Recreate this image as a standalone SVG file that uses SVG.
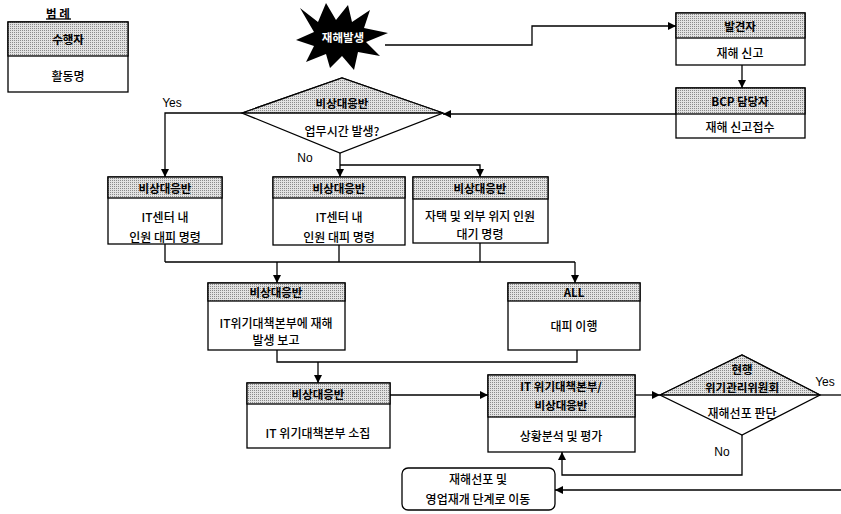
<svg xmlns="http://www.w3.org/2000/svg" width="841" height="514" viewBox="0 0 841 514">
<style>
.box{fill:#fff;stroke:#000;stroke-width:1.3}
.hdr{fill:url(#dots);stroke:#000;stroke-width:1.3}
.ht{font-family:"Noto Sans CJK KR","Liberation Sans",sans-serif;font-size:11.5px;font-weight:700;fill:#000;text-anchor:middle;dominant-baseline:central}
.bt{font-family:"Noto Sans CJK KR","Liberation Sans",sans-serif;font-size:12px;font-weight:500;fill:#000;text-anchor:middle;dominant-baseline:central}
.lbl{font-family:"Liberation Sans",sans-serif;font-size:12px;fill:#000;text-anchor:middle;dominant-baseline:central}
.c{fill:none;stroke:#000;stroke-width:1.3}
.ca{fill:none;stroke:#000;stroke-width:1.3;marker-end:url(#arr)}
</style>
<defs>
<pattern id="dots" width="2" height="2" patternUnits="userSpaceOnUse">
<rect width="2" height="2" fill="#e2e2e2"/>
<rect width="1" height="1" fill="#8a8a8a"/>
</pattern>
<marker id="arr" viewBox="0 0 10 10" refX="10" refY="5" markerWidth="8" markerHeight="8" markerUnits="userSpaceOnUse" orient="auto">
<path d="M0,0 L10,5 L0,10 z" fill="#000"/>
</marker>
</defs>
<rect width="841" height="514" fill="#fff"/>

<g id="legend">
<text class="ht" x="58" y="13">범 례</text>
<line x1="46" y1="19" x2="71" y2="19" stroke="#000" stroke-width="1.3"/>
<rect class="box" x="8" y="22" width="120" height="70"/>
<rect class="hdr" x="8" y="22" width="120" height="34"/>
<text class="ht" x="68" y="39">수행자</text>
<text class="bt" x="68" y="75">활동명</text>
</g>

<g id="start">
<polygon points="300,8 318,22 326,3 336,20 348,5 352,22 370,10 364,28 388,33 366,42 380,56 358,52 354,70 342,56 330,68 326,54 306,62 314,46 296,40 314,32" fill="#000"/>
<text class="ht" x="343" y="37" style="fill:#fff">재해발생</text>
</g>

<g id="discoverer">
<rect class="box" x="676" y="13" width="129" height="52"/>
<rect class="hdr" x="676" y="13" width="129" height="25"/>
<text class="ht" x="740" y="25.5">발견자</text>
<text class="bt" x="740" y="52">재해 신고</text>
</g>

<g id="bcp">
<rect class="box" x="676" y="88" width="129" height="50"/>
<rect class="hdr" x="676" y="88" width="129" height="26"/>
<text class="ht" x="740" y="101">BCP 담당자</text>
<text class="bt" x="740" y="126">재해 신고접수</text>
</g>

<g id="decision1">
<polygon class="box" points="242,113 342,78 443,113 340,153"/>
<polygon class="hdr" points="242,113 342,78 443,113"/>
<text class="ht" x="342" y="103">비상대응반</text>
<text class="bt" x="342" y="130">업무시간 발생?</text>
</g>

<g id="box1">
<rect class="box" x="108" y="177" width="114" height="67"/>
<rect class="hdr" x="108" y="177" width="114" height="21"/>
<text class="ht" x="165" y="188">비상대응반</text>
<text class="bt" x="165" y="216">IT센터 내</text>
<text class="bt" x="165" y="236">인원 대피 명령</text>
</g>

<g id="box2">
<rect class="box" x="273" y="177" width="132" height="68"/>
<rect class="hdr" x="273" y="177" width="132" height="21"/>
<text class="ht" x="339" y="188">비상대응반</text>
<text class="bt" x="339" y="216">IT센터 내</text>
<text class="bt" x="339" y="236">인원 대피 명령</text>
</g>

<g id="box3">
<rect class="box" x="413" y="177" width="135" height="66"/>
<rect class="hdr" x="413" y="177" width="135" height="22"/>
<text class="ht" x="480" y="188">비상대응반</text>
<text class="bt" x="480" y="215">자택 및 외부 위지 인원</text>
<text class="bt" x="480" y="233">대기 명령</text>
</g>

<g id="box4">
<rect class="box" x="208" y="283" width="137" height="67"/>
<rect class="hdr" x="208" y="283" width="137" height="18"/>
<text class="ht" x="276" y="292">비상대응반</text>
<text class="bt" x="276" y="322">IT위기대책본부에 재해</text>
<text class="bt" x="276" y="339">발생 보고</text>
</g>

<g id="all">
<rect class="box" x="508" y="283" width="132" height="67"/>
<rect class="hdr" x="508" y="283" width="132" height="18"/>
<text class="ht" x="574" y="292">ALL</text>
<text class="bt" x="574" y="325">대피 이행</text>
</g>

<g id="box5">
<rect class="box" x="247" y="383" width="143" height="65"/>
<rect class="hdr" x="247" y="383" width="143" height="21"/>
<text class="ht" x="318" y="394">비상대응반</text>
<text class="bt" x="318" y="432">IT 위기대책본부 소집</text>
</g>

<g id="box6">
<rect class="box" x="488" y="375" width="147" height="77"/>
<rect class="hdr" x="488" y="375" width="147" height="42"/>
<text class="ht" x="561" y="386">IT 위기대책본부/</text>
<text class="ht" x="561" y="405">비상대응반</text>
<text class="bt" x="561" y="435">상황분석 및 평가</text>
</g>

<g id="decision2">
<polygon class="box" points="660,395 742,355 820,395 742,435"/>
<polygon class="hdr" points="660,395 742,355 820,395"/>
<text class="ht" x="742" y="369">현행</text>
<text class="ht" x="742" y="387">위기관리위원회</text>
<text class="bt" x="742" y="412">재해선포 판단</text>
</g>

<g id="end">
<rect class="box" x="402" y="468" width="153" height="42" rx="6"/>
<text class="bt" x="478" y="478">재해선포 및</text>
<text class="bt" x="478" y="498">영업재개 단계로 이동</text>
</g>

<g id="connectors">
<path class="ca" d="M385,45 H532 V26 H676"/>
<path class="ca" d="M742,65 V88"/>
<path class="ca" d="M676,114 H443"/>
<path class="ca" d="M242,113 H165 V177"/>
<path class="ca" d="M340,153 V177"/>
<path class="ca" d="M340,165 H480 V177"/>
<path class="c" d="M165,244 V262 M339,245 V262 M480,243 V262 M165,262 H575"/>
<path class="ca" d="M277,262 V283"/>
<path class="ca" d="M575,262 V283"/>
<path class="c" d="M277,350 V362 H577 V350"/>
<path class="ca" d="M318,362 V383"/>
<path class="ca" d="M390,395 H488"/>
<path class="ca" d="M635,395 H660"/>
<path class="c" d="M820,395 H841"/>
<path class="ca" d="M742,435 V475 H562 V452"/>
<path class="ca" d="M841,490 H555"/>
<text class="lbl" x="172" y="103">Yes</text>
<text class="lbl" x="305" y="158">No</text>
<text class="lbl" x="825" y="382">Yes</text>
<text class="lbl" x="722" y="452">No</text>
</g>
</svg>
